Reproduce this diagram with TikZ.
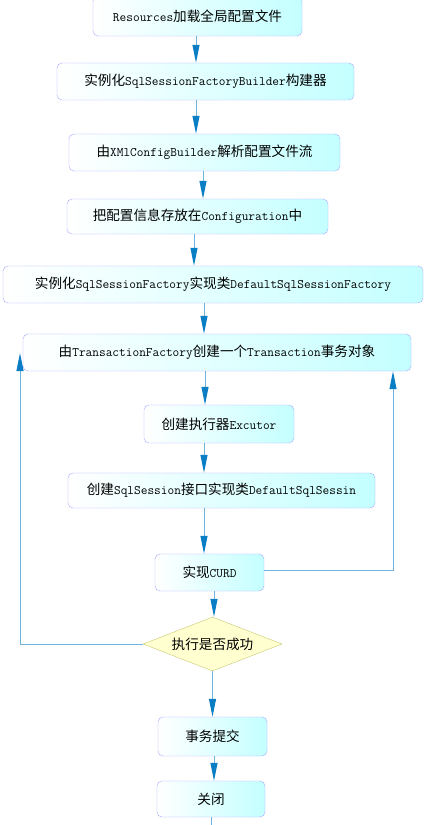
\documentclass[tikz,border=0pt]{standalone}
\usepackage{fontspec}
\setmainfont{Noto Sans CJK SC}
\usepackage{tikz}
\usetikzlibrary{arrows.meta,shapes.geometric}
\definecolor{boxline}{RGB}{168,168,255}
\definecolor{boxcyan}{RGB}{196,255,255}
\definecolor{flowline}{RGB}{110,180,222}
\definecolor{flowhead}{RGB}{10,126,196}
\definecolor{decfill}{RGB}{255,255,208}
\definecolor{decline}{RGB}{200,200,112}
\newcommand\en[1]{{\fontsize{13}{15}\selectfont\ttfamily #1}}

\begin{document}
\begin{tikzpicture}[x=1pt, y=-1pt,
        font=\fontsize{13.6}{16}\selectfont,
        box/.style={draw=boxline, rounded corners=5pt, left color=white, right color=boxcyan,
                    inner sep=0pt, minimum height=37pt},
        decision/.style={diamond, draw=decline, fill=decfill, inner sep=0pt, aspect=2.6},
        flow/.style={draw=flowline, line width=1pt,
                     -{Triangle[length=18pt, width=7pt, color=flowhead]}},
        line/.style={draw=flowline, line width=1pt}]
    \useasboundingbox (0,0) rectangle (425,825);
    % main steps
    \node[box, minimum width=209pt, minimum height=40pt] (b1) at (197.5,16) {\en{Resources}加载全局配置文件};
    \node[box, minimum width=297pt] (b2) at (205.5,81.5) {实例化\en{SqlSessionFactoryBuilder}构建器};
    \node[box, minimum width=271pt] (b3) at (204.5,152.5) {由\en{XMlConfigBuilder}解析配置文件流};
    \node[box, minimum width=261pt, minimum height=35pt] (b4) at (197.5,216.5) {把配置信息存放在\en{Configuration}中};
    \node[box, minimum width=420pt] (b5) at (213,284.5) {实例化\en{SqlSessionFactory}实现类\en{DefaultSqlSessionFactory}};
    \node[box, minimum width=388pt] (b6) at (217,352.5) {由\en{TransactionFactory}创建一个\en{Transaction}事务对象};
    \node[box, minimum width=150pt, minimum height=38pt] (b7) at (219,424) {创建执行器\en{Excutor}};
    \node[box, minimum width=307pt, minimum height=35pt] (b8) at (221.5,490.5) {创建\en{SqlSession}接口实现类\en{DefaultSqlSessin}};
    \node[box, minimum width=109pt] (b9) at (209.5,572.5) {实现\en{CURD}};
    \node[decision, minimum width=139pt, minimum height=54pt] (d) at (212.5,644) {执行是否成功};
    \node[box, minimum width=109pt, minimum height=39pt] (b10) at (212.5,736.5) {事务提交};
    \node[box, minimum width=108pt, minimum height=36pt] (b11) at (211,799) {关闭};
    \coordinate (back) at (20,353);
    \coordinate (tail) at (211,830);

    % arrows
    \draw[flow] ([xshift=-1.5pt]b1.south) -- ([xshift=-1.5pt]b1.south |- b2.north);
    \draw[flow] ([xshift=-9.5pt]b2.south) -- ([xshift=-9.5pt]b2.south |- b3.north);
    \draw[flow] ([xshift=-1.5pt]b3.south) -- ([xshift=-1.5pt]b3.south |- b4.north);
    \draw[flow] ([xshift=-3.5pt]b4.south) -- ([xshift=-3.5pt]b4.south |- b5.north);
    \draw[flow] ([xshift=-9pt]b5.south) -- ([xshift=-9pt]b5.south |- b6.north);
    \draw[flow] ([xshift=-12pt]b6.south) -- ([xshift=-12pt]b6.south |- b7.north);
    \draw[flow] ([xshift=-15pt]b7.south) -- ([xshift=-15pt]b7.south |- b8.north);
    \draw[flow] ([xshift=-17.5pt]b8.south) -- ([xshift=-17.5pt]b8.south |- b9.north);
    \draw[flow] ([xshift=4.5pt]b9.south) -- ([xshift=4.5pt]b9.south |- d.north);
    \draw[flow] (d.south) -- (d.south |- b10.north);
    \draw[flow] ([xshift=1.5pt]b10.south) -- ([xshift=1.5pt]b10.south |- b11.north);
    \draw[line] (b11.south) -- (tail);

    % loops
    \draw[flow] (d.west) -| (back);
    \draw[flow] ([yshift=2.5pt]b9.east) -| ([xshift=176pt]b6.south);
\end{tikzpicture}
\end{document}
